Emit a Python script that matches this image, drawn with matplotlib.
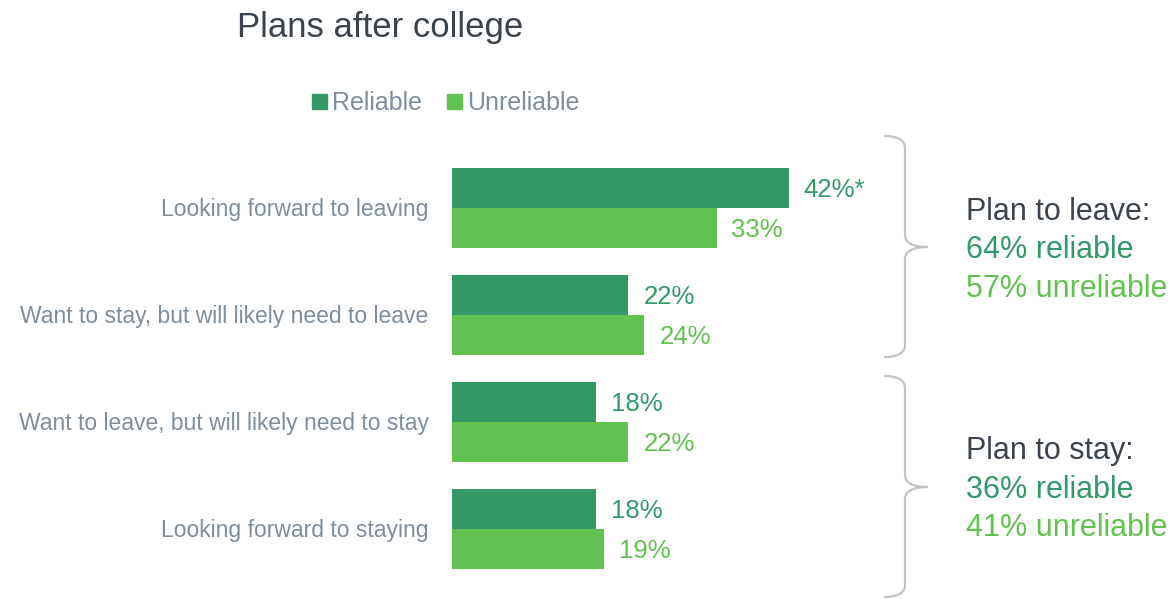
import matplotlib
matplotlib.use("Agg")
import matplotlib.pyplot as plt
from matplotlib.path import Path
from matplotlib.patches import PathPatch, Rectangle
import numpy as np

categories = ["Looking forward to leaving",
              "Want to stay, but will likely need to leave",
              "Want to leave, but will likely need to stay",
              "Looking forward to staying"]
reliable = [42, 22, 18, 18]
unreliable = [33, 24, 22, 19]
reliable_labels = ["42%*", "22%", "18%", "18%"]
unreliable_labels = ["33%", "24%", "22%", "19%"]
series_names = ["Reliable", "Unreliable"]
summary_titles = ["Plan to leave:", "Plan to stay:"]
summary_reliable = ["64% reliable", "36% reliable"]
summary_unreliable = ["57% unreliable", "41% unreliable"]

C_DARK = "#339966"
C_LIGHT = "#62c250"
C_LABEL = "#7f8e9c"
C_TITLE = "#3b444d"
C_BRACE = "#c4c4c4"

plt.rcParams['font.family'] = ['Liberation Sans', 'DejaVu Sans']

W, H = 1175, 599
fig = plt.figure(figsize=(W / 100, H / 100), dpi=100)

def fx(px):
    return px / W

def fy(py):
    return 1 - py / H

ax_left, ax_right = 452, 452 + 8.02 * 50
ax_top, ax_bot = 154.5, 582.5
ax = fig.add_axes([fx(ax_left), fy(ax_bot), (ax_right - ax_left) / W, (ax_bot - ax_top) / H])
ax.set_xlim(0, 50)
ax.set_ylim(3.5, -0.5)
ax.axis("off")

y = np.arange(len(categories))
bh = 0.37
ax.barh(y - bh / 2, reliable, height=bh, color=C_DARK, label=series_names[0])
ax.barh(y + bh / 2, unreliable, height=bh, color=C_LIGHT, label=series_names[1])

dy = 0.018  # small text nudge (~2 px)
for i in range(len(categories)):
    ax.text(reliable[i] + 1.85, y[i] - bh / 2 + dy, reliable_labels[i], color=C_DARK,
            fontsize=18.5, va="center", ha="left")
    ax.text(unreliable[i] + 1.85, y[i] + bh / 2 + dy, unreliable_labels[i], color=C_LIGHT,
            fontsize=18.5, va="center", ha="left")
    ax.text(-2.9, y[i] + dy, categories[i], color=C_LABEL, fontsize=16.5,
            va="center", ha="right")

# Title
fig.text(fx(237), fy(27), "Plans after college", fontsize=25, color=C_TITLE,
         ha="left", va="center")

# Legend
legend_items = [(312, series_names[0], C_DARK), (447, series_names[1], C_LIGHT)]
for x0, name, col in legend_items:
    fig.patches.append(Rectangle((fx(x0), fy(109)), 15 / W, 15 / H, color=col,
                                 transform=fig.transFigure, figure=fig))
    fig.text(fx(x0 + 20), fy(103), name, fontsize=18, color=C_LABEL,
             ha="left", va="center")

# Braces
def brace(top, bot, mid, xl=884, xv=905, xt=928):
    r = 12
    verts = [(xl, top), (xv, top), (xv, top + r),
             (xv, mid - r), (xv, mid), (xt, mid),
             (xv, mid), (xv, mid + r),
             (xv, bot - r), (xv, bot), (xl, bot)]
    codes = [Path.MOVETO, Path.CURVE3, Path.CURVE3,
             Path.LINETO, Path.CURVE3, Path.CURVE3,
             Path.CURVE3, Path.CURVE3,
             Path.LINETO, Path.CURVE3, Path.CURVE3]
    pts = [(fx(a), fy(b)) for a, b in verts]
    p = PathPatch(Path(pts, codes), fill=False, edgecolor=C_BRACE, lw=1.6,
                  transform=fig.transFigure, figure=fig)
    fig.patches.append(p)

brace(136, 357, 247)
brace(376, 597, 487)

# Summary text
for k, ty in enumerate([212, 451]):
    fig.text(fx(966), fy(ty), summary_titles[k], fontsize=22, color=C_TITLE,
             ha="left", va="center")
    fig.text(fx(966), fy(ty + 38.5), summary_reliable[k], fontsize=22, color=C_DARK,
             ha="left", va="center")
    fig.text(fx(966), fy(ty + 77), summary_unreliable[k], fontsize=22, color=C_LIGHT,
             ha="left", va="center")

fig.savefig("out.png", dpi=100)
